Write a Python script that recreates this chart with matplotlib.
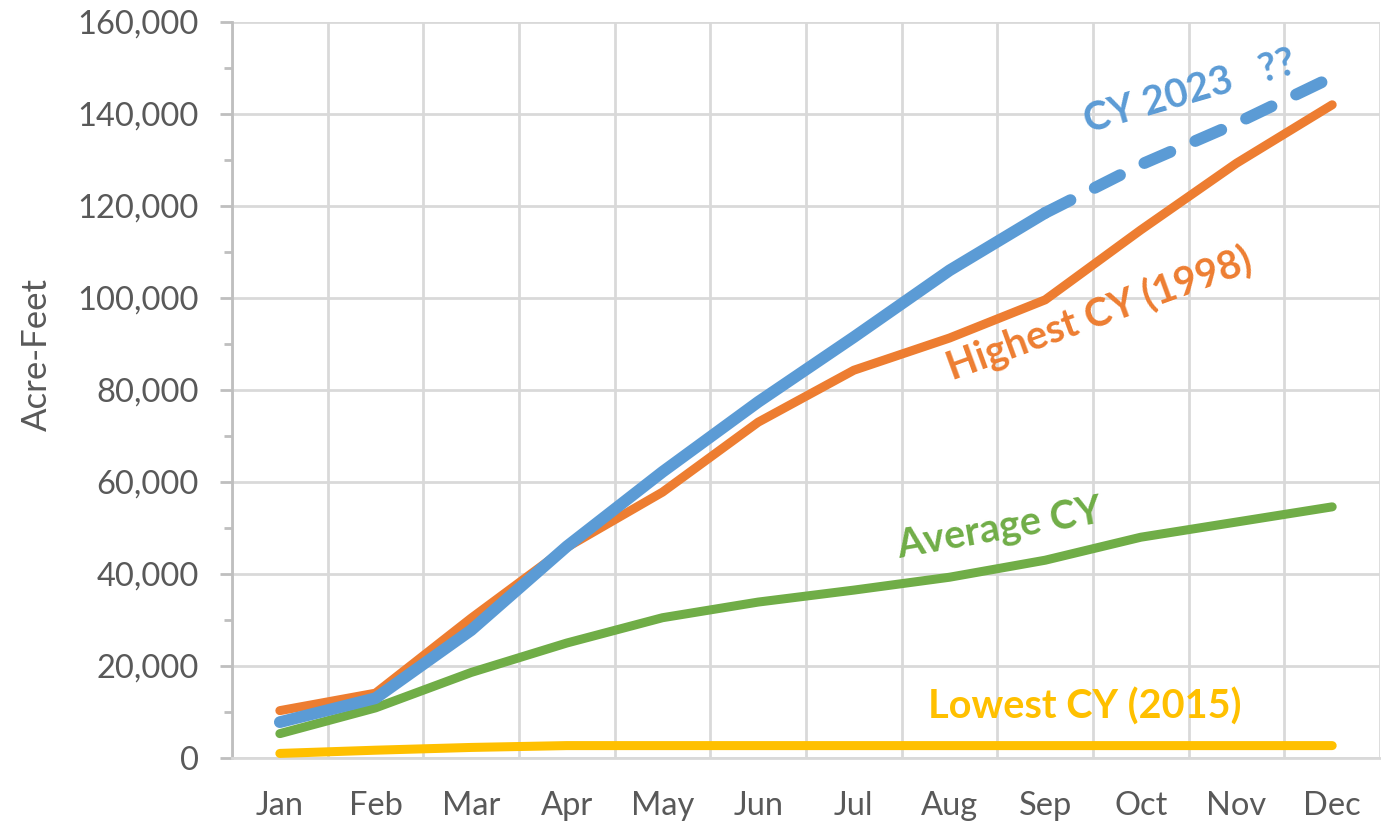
import matplotlib.pyplot as plt
from matplotlib.ticker import FuncFormatter, MultipleLocator

months = ['Jan', 'Feb', 'Mar', 'Apr', 'May', 'Jun', 'Jul', 'Aug', 'Sep', 'Oct', 'Nov', 'Dec']

# acre-feet, cumulative by month
cy2023 = [7800, 13000, 27800, 46000, 62200, 77400, 91500, 106000, 118500]
cy2023_proj = [118500, 129000, 138000, 148000]   # Sep..Dec, projected
highest_1998 = [10300, 14100, 30400, 45800, 57800, 73000, 84300, 91300, 99600, 114800, 129300, 142000]
average_cy = [5300, 10900, 18600, 25000, 30500, 33900, 36500, 39300, 43000, 48000, 51300, 54600]
lowest_2015 = [1000, 1700, 2300, 2700, 2700, 2700, 2700, 2700, 2700, 2700, 2700, 2700]

blue = '#5B9BD5'
orange = '#ED7D31'
green = '#70AD47'
yellow = '#FFC000'
grey_txt = '#595959'

plt.rcParams['font.family'] = ['Lato', 'DejaVu Sans']


def main():
	fig = plt.figure(figsize=(13.81, 8.26), dpi=100)
	ax = fig.add_axes([0.168, 0.0823, 0.8313, 0.8911])

	x = list(range(len(months)))

	ax.plot(x, lowest_2015, color=yellow, lw=6.5, solid_capstyle='round', zorder=3)
	ax.plot(x, average_cy, color=green, lw=6.5, solid_capstyle='round', zorder=3)
	ax.plot(x, highest_1998, color=orange, lw=6.5, solid_capstyle='round', zorder=4)
	ax.plot(x[:len(cy2023)], cy2023, color=blue, lw=8.5, solid_capstyle='round', zorder=5)
	ax.plot(x[8:], cy2023_proj, color=blue, lw=8.5, ls=(0, (2.4, 2.3)),
			dash_capstyle='round', zorder=5)

	# annotations
	lab = dict(fontsize=28.5, fontweight='bold', ha='center', va='center')
	ax.text(9.51, 144800, 'CY 2023   ??', color=blue, rotation=16, **lab)
	ax.text(8.57, 96300, 'Highest CY (1998)', color=orange, rotation=20, **lab)
	ax.text(7.52, 49800, 'Average CY', color=green, rotation=10, **lab)
	ax.text(8.41, 11100, 'Lowest CY (2015)', color=yellow, **lab)

	ax.set_xlim(-0.5, 11.5)
	ax.set_ylim(0, 160000)
	ax.set_xticks(x)
	ax.set_xticklabels(months)
	ax.set_xticks([i + 0.5 for i in range(-1, 12)], minor=True)
	ax.yaxis.set_major_locator(MultipleLocator(20000))
	ax.yaxis.set_minor_locator(MultipleLocator(10000))
	ax.yaxis.set_major_formatter(FuncFormatter(lambda v, p: f'{int(v):,}'))

	ax.grid(True, which='major', axis='y', color='#d9d9d9', lw=2, zorder=0)
	ax.grid(True, which='minor', axis='x', color='#d9d9d9', lw=2, zorder=0)
	ax.set_axisbelow(True)

	for s in ['top', 'right']:
		ax.spines[s].set_visible(False)
	ax.spines['left'].set_color('#bfbfbf')
	ax.spines['left'].set_linewidth(2)
	ax.spines['bottom'].set_color('#d9d9d9')
	ax.spines['bottom'].set_linewidth(2)

	ax.tick_params(axis='y', which='major', length=9, width=2, color='#bfbfbf',
				   labelsize=23.5, labelcolor=grey_txt, pad=15)
	ax.tick_params(axis='y', which='minor', length=6, width=2, color='#bfbfbf')
	ax.tick_params(axis='x', which='both', length=0, labelsize=23.5, labelcolor=grey_txt, pad=24)

	ax.set_ylabel('Acre-Feet', fontsize=25, color=grey_txt)
	ax.yaxis.set_label_coords(-0.156, 0.548)

	fig.savefig('out.png', dpi=100)


if __name__ == '__main__':
	main()
